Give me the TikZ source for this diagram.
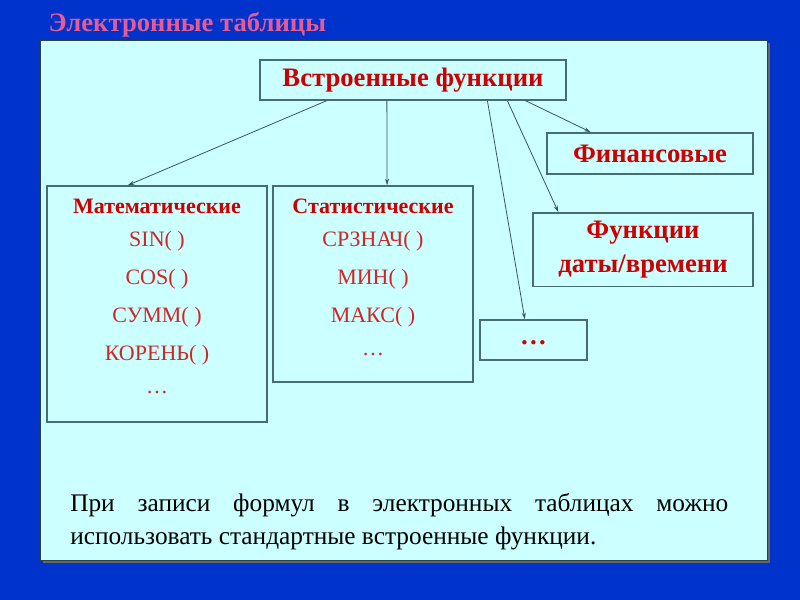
\documentclass[tikz,border=0pt]{standalone}
\usepackage{fontspec}
\setmainfont{Liberation Serif}
\usetikzlibrary{calc,arrows.meta}
\definecolor{slideblue}{RGB}{0,51,204}
\definecolor{panel}{RGB}{204,255,255}
\definecolor{edge}{RGB}{70,110,110}
\definecolor{titlepink}{RGB}{230,90,150}
\definecolor{headred}{RGB}{204,0,0}
\definecolor{itemred}{RGB}{204,40,40}
\tikzset{
  box/.style={draw=edge, line width=1.1pt, fill=panel, inner sep=0pt},
  head/.style={font=\bfseries\fontsize{16.5}{20}\selectfont, text=headred},
  item/.style={font=\fontsize{16.5}{20}\selectfont, text=itemred},
  big/.style={font=\bfseries\fontsize{20}{24}\selectfont, text=headred, align=center},
  link/.style={draw=edge!80!black, line width=0.6pt, -{Stealth[length=5pt,width=3pt]}}
}
\begin{document}
\begin{tikzpicture}[x=0.75pt, y=-0.75pt]
\fill [slideblue] (0, 0) rectangle (800, 600);
\useasboundingbox (0, 0) rectangle (800, 600);
\fill [black!60] (43, 43) rectangle (770, 563);
\draw [fill=panel, draw=edge!60!black, line width=0.5pt] (40, 40) rectangle (767, 560);
\node [anchor=west, font=\bfseries\fontsize{20}{24}\selectfont, text=titlepink] (title) at (44, 25) {Электронные таблицы};
\node [box, big, minimum width=229.5pt, minimum height=30pt] (top) at (413, 80) {Встроенные функции};
\node [box, minimum width=165pt, minimum height=177pt] (math) at (157, 304) {};
\node [box, minimum width=150pt, minimum height=147pt] (stat) at (373, 284) {};
\node [box, big, minimum width=154.5pt, minimum height=31pt] (fin) at (650, 153.5) {Финансовые};
\node [box, big, minimum width=165pt, minimum height=55pt] (date) at (643, 249.6) {Функции\\[1pt]даты/времени};
\node [box, big, minimum width=80pt, minimum height=30pt] (more) at (533.5, 340) {\raisebox{-3pt}[0pt][0pt]{…}};
\node [head] (mathhead) at (157, 206) {Математические};
\foreach \t [count=\i] in {SIN( ), COS( ), СУММ( ), КОРЕНЬ( ), …}
  \node [item] (math\i) at (157, 203 + 38*\i) {\t};
\node [head] (stathead) at (373, 206) {Статистические};
\foreach \t [count=\i] in {СРЗНАЧ( ), МИН( ), МАКС( ), …}
  \node [item] (stat\i) at (373, 203 + 38*\i) {\t};
\draw [link] ($(top.south west)!0.219!(top.south east)$) -- ($(math.north west)!0.368!(math.north east)$);
\draw [link] ($(top.south west)!0.415!(top.south east)$) -- ($(stat.north west)!0.57!(stat.north east)$);
\draw [link] ($(top.south west)!0.742!(top.south east)$) -- ($(more.north west)!0.42!(more.north east)$);
\draw [link] ($(top.south west)!0.807!(top.south east)$) -- ($(date.north west)!0.118!(date.north east)$);
\draw [link] ($(top.south west)!0.866!(top.south east)$) -- ($(fin.north west)!0.214!(fin.north east)$);
\node [anchor=north west, text width=493.5pt, align=justify, inner sep=0pt, font=\fontsize{19}{25}\selectfont] (note) at (70, 493) {При записи формул в электронных таблицах можно использовать стандартные встроенные функции.};
\end{tikzpicture}
\end{document}
